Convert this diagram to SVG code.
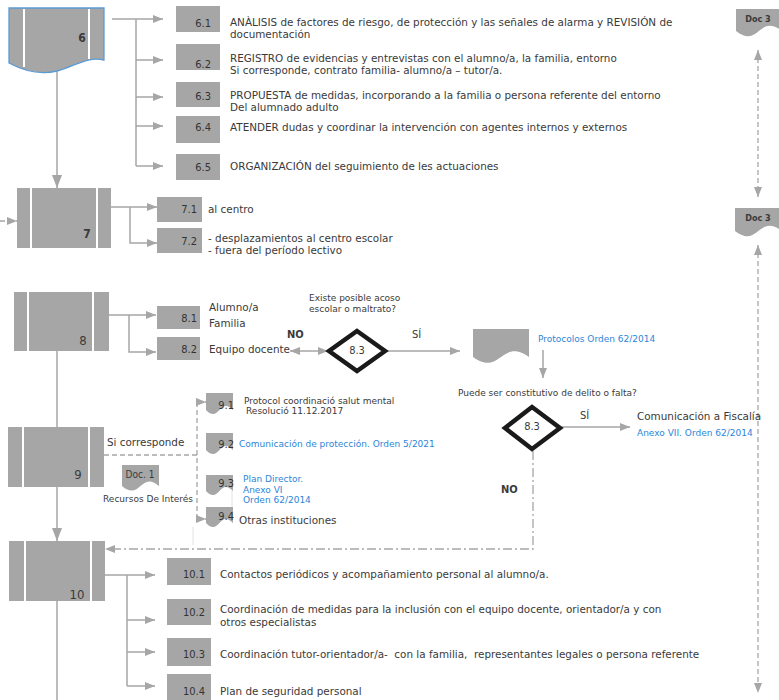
<svg xmlns="http://www.w3.org/2000/svg" width="779" height="700" viewBox="0 0 779 700">
<defs>
<style>
.bx{fill:#a6a6a6}
.wl{stroke:#fff;stroke-width:2}
.ln{stroke:#a6a6a6;stroke-width:1.5;fill:none}
.ds{stroke:#a6a6a6;stroke-width:1.3;fill:none;stroke-dasharray:5 3}
.dd{stroke:#a6a6a6;stroke-width:1.3;fill:none;stroke-dasharray:9 3 2 3}
.fl{stroke:#e2e2e2;stroke-width:1;fill:none}
.dm{fill:#fff;stroke:#1a1a1a;stroke-width:4.5;stroke-linejoin:miter}
text{font-family:"DejaVu Sans Condensed","DejaVu Sans",sans-serif;fill:#3a3a3a}
.t{font-family:"DejaVu Sans",sans-serif;font-size:10.4px}
.lb{font-size:11px;text-anchor:end;fill:#333}
.s{font-family:"DejaVu Sans",sans-serif;font-size:9px}
.bl{fill:#2b86d9}
.nm{font-size:13px;text-anchor:middle}
.m{text-anchor:middle}
</style>
<marker id="a" viewBox="0 0 10 8" refX="10" refY="4" markerWidth="10" markerHeight="8" markerUnits="userSpaceOnUse" orient="auto-start-reverse"><path d="M0,0L10,4L0,8z" fill="#a6a6a6"/></marker>
<marker id="A" viewBox="0 0 13 10" refX="13" refY="5" markerWidth="13" markerHeight="10" markerUnits="userSpaceOnUse" orient="auto-start-reverse"><path d="M0,0L13,5L0,10z" fill="#a6a6a6"/></marker>
</defs>

<g id="connectors">
<line class="ln" x1="57" y1="71" x2="57" y2="188" marker-end="url(#A)"/>
<path class="ln" d="M112,19H163" marker-end="url(#a)"/>
<path class="ln" d="M136,19V166"/>
<path class="ln" d="M136,60H163" marker-end="url(#a)"/>
<path class="ln" d="M136,97H163" marker-end="url(#a)"/>
<path class="ln" d="M136,126H163" marker-end="url(#a)"/>
<path class="ln" d="M136,166H163" marker-end="url(#a)"/>
<path class="ds" d="M0,221H17" marker-end="url(#a)"/>
<path class="ln" d="M111,207H157" marker-end="url(#a)"/>
<path class="ln" d="M130,207V243H157" marker-end="url(#a)"/>
<path class="ln" d="M109,315H156" marker-end="url(#a)"/>
<path class="ln" d="M129,315V352H156" marker-end="url(#a)"/>
<path class="ln" d="M290,351H328" marker-start="url(#a)" marker-end="url(#a)"/>
<path class="ln" d="M387,351H460" marker-end="url(#a)"/>
<path class="ln" d="M543,350V378" marker-end="url(#a)"/>
<path class="ln" d="M57,351V427"/>
<path class="ln" d="M57,487V541" marker-end="url(#A)"/>
<path class="ln" d="M57,601V700"/>
<path class="ds" d="M104,455H197"/>
<path class="ds" d="M197,402V519"/>
<path class="ds" d="M197,402H206" marker-end="url(#a)"/>
<path class="ds" d="M197,519H206" marker-end="url(#a)"/>
<path class="fl" d="M193,527V545"/>
<path class="fl" d="M232,491V507"/>
<path class="ln" d="M562,427H630" marker-end="url(#a)"/>
<path class="dd" d="M533,451V549H105" marker-end="url(#a)"/>
<path class="ln" d="M105,575H155" marker-end="url(#a)"/>
<path class="ln" d="M127,575V686"/>
<path class="ln" d="M127,620H155" marker-end="url(#a)"/>
<path class="ln" d="M127,652H155" marker-end="url(#a)"/>
<path class="ln" d="M127,686H155" marker-end="url(#a)"/>
<path class="ds" d="M758,50V197" marker-start="url(#a)" marker-end="url(#a)"/>
<path class="ds" d="M758,245V693" marker-start="url(#a)" marker-end="url(#a)"/>
</g>

<g id="n6">
<path d="M9,8H104V60C88,56 75,66 57,71C40,75 22,70 9,63Z" fill="#a6a6a6" stroke="#5b9bd5" stroke-width="1.3"/>
<line class="wl" x1="24" y1="9" x2="24" y2="67"/>
<line class="wl" x1="89" y1="9" x2="89" y2="59"/>
<text x="82" y="42" class="m" font-size="12" font-weight="bold">6</text>
</g>
<g id="n6-1">
<rect class="bx" x="176" y="6" width="44" height="26"/>
<text class="lb" x="211" y="27">6.1</text>
<text class="t" x="230" y="26" font-size="9.9">ANÀLISIS de factores de riesgo, de protección y las señales de alarma y REVISIÓN de</text>
<text class="t" x="230" y="38">documentación</text>
</g>
<g id="n6-2">
<rect class="bx" x="176" y="44" width="44" height="26"/>
<text class="lb" x="211" y="68">6.2</text>
<text class="t" x="230" y="62">REGISTRO de evidencias y entrevistas con el alumno/a, la familia, entorno</text>
<text class="t" x="230" y="74">Si corresponde, contrato familia- alumno/a – tutor/a.</text>
</g>
<g id="n6-3">
<rect class="bx" x="176" y="82" width="44" height="25"/>
<text class="lb" x="211" y="100">6.3</text>
<text class="t" x="230" y="99">PROPUESTA de medidas, incorporando a la familia o persona referente del entorno</text>
<text class="t" x="230" y="111">Del alumnado adulto</text>
</g>
<g id="n6-4">
<rect class="bx" x="176" y="116" width="44" height="27"/>
<text class="lb" x="211" y="131">6.4</text>
<text class="t" x="230" y="131" font-size="10.2">ATENDER dudas y coordinar la intervención con agentes internos y externos</text>
</g>
<g id="n6-5">
<rect class="bx" x="176" y="154" width="44" height="26"/>
<text class="lb" x="211" y="171">6.5</text>
<text class="t" x="230" y="170" font-size="10.7">ORGANIZACIÓN del seguimiento de les actuaciones</text>
</g>

<g id="doc3a">
<path class="bx" d="M736,9H782V31C759,13 759,49 736,31Z"/>
<text x="758" y="22" class="m" font-size="9" font-weight="bold">Doc 3</text>
</g>
<g id="doc3b">
<path class="bx" d="M735,208H782V231C758.5,213 758.5,249 735,231Z"/>
<text x="758" y="221" class="m" font-size="9" font-weight="bold">Doc 3</text>
</g>

<g id="n7">
<rect class="bx" x="17" y="188" width="94" height="60"/>
<line class="wl" x1="31" y1="188" x2="31" y2="248"/>
<line class="wl" x1="97" y1="188" x2="97" y2="248"/>
<text x="87" y="238" class="m" font-size="12" font-weight="bold">7</text>
</g>
<g id="n7-1">
<rect class="bx" x="157" y="197" width="45" height="25"/>
<text class="lb" x="197" y="213">7.1</text>
<text class="t" x="208" y="213">al centro</text>
</g>
<g id="n7-2">
<rect class="bx" x="157" y="228" width="45" height="25"/>
<text class="lb" x="197" y="245">7.2</text>
<text class="t" x="208" y="242">- desplazamientos al centro escolar</text>
<text class="t" x="208" y="254">- fuera del período lectivo</text>
</g>

<g id="n8">
<rect class="bx" x="14" y="292" width="95" height="59"/>
<line class="wl" x1="28" y1="292" x2="28" y2="351"/>
<line class="wl" x1="93" y1="292" x2="93" y2="351"/>
<text x="83" y="345" class="nm">8</text>
</g>
<g id="n8-1">
<rect class="bx" x="157" y="306" width="43" height="23"/>
<text class="lb" x="197" y="322">8.1</text>
<text class="t" x="209" y="311">Alumno/a</text>
<text class="t" x="209" y="327">Familia</text>
</g>
<g id="n8-2">
<rect class="bx" x="157" y="337" width="43" height="23"/>
<text class="lb" x="197" y="353">8.2</text>
<text class="t" x="209" y="353" font-size="10.2">Equipo docente</text>
</g>
<g id="d8-3a">
<text class="s" x="309" y="301">Existe posible acoso</text>
<text class="s" x="309" y="312">escolar o maltrato?</text>
<text x="287" y="338" font-size="11" font-weight="bold">NO</text>
<polygon class="dm" points="357,331 385,351 357,371 329,351"/>
<text x="357" y="354" class="m" font-size="11">8.3</text>
<text x="412" y="338" font-size="11">SÍ</text>
</g>
<g id="protocolos">
<path class="bx" d="M473,329H529V357C501,337 501,377 473,357Z"/>
<text class="s bl" x="538" y="342">Protocolos Orden 62/2014</text>
</g>
<g id="d8-3b">
<text class="s" x="458" y="396" font-size="8.6">Puede ser constitutivo de delito o falta?</text>
<polygon class="dm" points="532,407 560,428 532,449 505,428" stroke-width="5"/>
<text x="532" y="430" class="m" font-size="11">8.3</text>
<text x="580" y="419" font-size="11">SÍ</text>
<text x="501" y="493" font-size="11" font-weight="bold">NO</text>
</g>
<g id="fiscalia">
<text class="t" x="637" y="420" font-size="10.6">Comunicación a Fiscalía</text>
<text class="s bl" x="637" y="436">Anexo VII. Orden 62/2014</text>
</g>

<g id="n9">
<rect class="bx" x="8" y="427" width="96" height="60"/>
<line class="wl" x1="23" y1="427" x2="23" y2="487"/>
<line class="wl" x1="89" y1="427" x2="89" y2="487"/>
<text x="78" y="479" class="nm">9</text>
<text class="t" x="107" y="446">Si corresponde</text>
</g>
<g id="doc1">
<path class="bx" d="M122,465H159V486C140.5,470 140.5,502 122,486Z"/>
<text x="140" y="478" class="m" font-size="10">Doc. 1</text>
<text class="s" x="103" y="502">Recursos De Interés</text>
</g>
<g id="n9-1">
<path class="bx" d="M206,393H233V410C219.5,396 219.5,424 206,410Z"/>
<text class="lb" x="234" y="409">9.1</text>
<text class="s" x="244" y="404">Protocol coordinació salut mental</text>
<text class="s" x="246" y="414">Resolució 11.12.2017</text>
</g>
<g id="n9-2">
<path class="bx" d="M206,433H233V450C219.5,436 219.5,464 206,450Z"/>
<text class="lb" x="234" y="448">9.2</text>
<text class="s bl" x="239" y="447">Comunicación de protección. Orden 5/2021</text>
</g>
<g id="n9-3">
<path class="bx" d="M206,475H233V491C219.5,477 219.5,505 206,491Z"/>
<text class="lb" x="234" y="487">9.3</text>
<text class="s bl" x="243" y="482" font-size="9.3">Plan Director.</text>
<text class="s bl" x="243" y="493" font-size="9.3">Anexo VI</text>
<text class="s bl" x="243" y="503" font-size="9.3">Orden 62/2014</text>
</g>
<g id="n9-4">
<path class="bx" d="M206,507H233V523C219.5,509 219.5,537 206,523Z"/>
<text class="lb" x="234" y="520">9.4</text>
<text class="t" x="239" y="524" font-size="10.2">Otras instituciones</text>
</g>

<g id="n10">
<rect class="bx" x="9" y="541" width="96" height="60"/>
<line class="wl" x1="25" y1="541" x2="25" y2="601"/>
<line class="wl" x1="91" y1="541" x2="91" y2="601"/>
<text x="77" y="599" class="nm">10</text>
</g>
<g id="n10-1">
<rect class="bx" x="167" y="558" width="44" height="27"/>
<text class="lb" x="205" y="578">10.1</text>
<text class="t" x="220" y="578" font-size="10.5">Contactos periódicos y acompañamiento personal al alumno/a.</text>
</g>
<g id="n10-2">
<rect class="bx" x="167" y="599" width="44" height="26"/>
<text class="lb" x="205" y="616">10.2</text>
<text class="t" x="220" y="613" font-size="10.5">Coordinación de medidas para la inclusión con el equipo docente, orientador/a y con</text>
<text class="t" x="220" y="626" font-size="10.5">otros especialistas</text>
</g>
<g id="n10-3">
<rect class="bx" x="167" y="638" width="44" height="28"/>
<text class="lb" x="205" y="658">10.3</text>
<text class="t" x="220" y="658" font-size="10.5" xml:space="preserve">Coordinación tutor-orientador/a-  con la familia,  representantes legales o persona referente</text>
</g>
<g id="n10-4">
<rect class="bx" x="167" y="674" width="44" height="26"/>
<text class="lb" x="205" y="695">10.4</text>
<text class="t" x="220" y="695" font-size="10.5">Plan de seguridad personal</text>
</g>
</svg>
